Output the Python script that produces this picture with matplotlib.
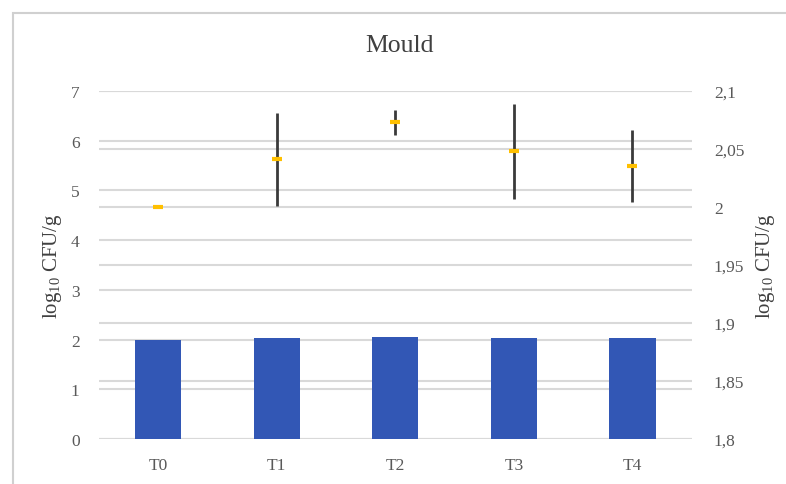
import matplotlib
matplotlib.use("Agg")
import matplotlib.pyplot as plt
from matplotlib.patches import Rectangle

categories = ["T0", "T1", "T2", "T3", "T4"]
bar_values = [2.00, 2.04, 2.06, 2.04, 2.04]
point_values = [2.000, 2.041, 2.073, 2.048, 2.035]
point_errors = [0.0, 0.040, 0.0105, 0.041, 0.031]
left_ticks = [0, 1, 2, 3, 4, 5, 6, 7]
right_ticks = [1.8, 1.85, 1.9, 1.95, 2.0, 2.05, 2.1]
right_tick_labels = ["1,8", "1,85", "1,9", "1,95", "2", "2,05", "2,1"]

serif = ["Liberation Serif", "DejaVu Serif"]
plt.rcParams["font.family"] = serif
plt.rcParams["mathtext.fontset"] = "custom"
plt.rcParams["mathtext.rm"] = "Liberation Serif"
plt.rcParams["mathtext.it"] = "Liberation Serif:italic"
plt.rcParams["mathtext.bf"] = "Liberation Serif:bold"
tick_color = "#595959"
grid_color = "#d9d9d9"

fig = plt.figure(figsize=(7.86, 4.85), dpi=100)
rect = [0.126, 0.0928, 0.754, 0.7175]
ax = fig.add_axes(rect)
ax2 = ax.twinx()   # right axis: ticks + grid
ax3 = ax.twinx()   # points layer, same scale as right axis

ax2.set_zorder(0)
ax.set_zorder(1)
ax3.set_zorder(2)
ax.patch.set_visible(False)
ax3.patch.set_visible(False)

x = list(range(len(categories)))
ax.bar(x, bar_values, width=0.39, color="#3257B5", zorder=3)
ax.set_xlim(-0.5, len(categories) - 0.5)
ax.set_ylim(0, 7)
ax.set_yticks(left_ticks)
ax.set_xticks(x)
ax.set_xticklabels(categories)
ax.grid(axis="y", color=grid_color, linewidth=1.5, zorder=0)
ax.set_axisbelow(True)

ax2.set_ylim(1.8, 2.1)
ax2.set_yticks(right_ticks)
ax2.set_yticklabels(right_tick_labels)
ax2.grid(axis="y", color=grid_color, linewidth=1.5, zorder=0)

ax3.set_ylim(1.8, 2.1)
ax3.set_yticks([])
ax3.errorbar(x, point_values, yerr=point_errors, fmt="none", ecolor="#3a3a3a",
             elinewidth=2, capsize=0, zorder=4)
ax3.plot(x, point_values, linestyle="none", marker="_", markersize=7,
         markeredgewidth=3, color="#FFC000", zorder=5)

for a in (ax, ax2, ax3):
    for s in a.spines.values():
        s.set_visible(False)
    a.tick_params(length=0, labelsize=12.5, labelcolor=tick_color)
ax.tick_params(axis="y", pad=14)
ax2.tick_params(axis="y", pad=16)
ax.tick_params(axis="x", pad=13)

ax.set_ylabel("log$_{10}$ CFU/g", fontsize=15, color="#404040", labelpad=5)
ax2.set_ylabel("log$_{10}$ CFU/g", fontsize=15, color="#404040", labelpad=7,
               rotation=90)

fig.text(400 / 786, 1 - 46 / 485, "Mould", ha="center", va="center",
         fontsize=18.5, color="#404040")

fig.patches.append(Rectangle((13 / 786, -0.1), 1.2, 1 - 14 / 485 + 0.1,
                             transform=fig.transFigure, fill=False,
                             edgecolor="#d0d0d0", linewidth=1.5))

fig.savefig("out.png", dpi=100)
